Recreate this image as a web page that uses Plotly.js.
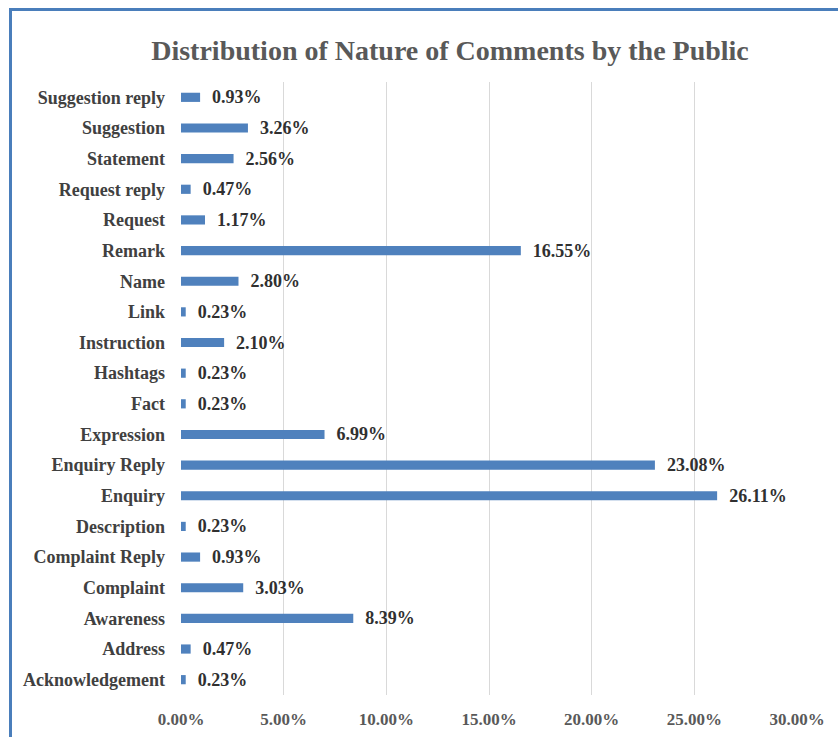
<!DOCTYPE html>
<html><head><meta charset="utf-8">
<script src="https://cdn.plot.ly/plotly-3.0.1.min.js"></script>
<style>
html,body{margin:0;padding:0;background:#fff;overflow:hidden;}
#chart{position:absolute;left:0;top:0;width:838px;height:737px;}
#frame{position:absolute;left:9px;top:8px;width:900px;height:800px;border-left:3px solid #4a7ebb;border-top:3px solid #4a7ebb;pointer-events:none;}
</style></head>
<body>
<div id="chart"></div>
<div id="frame"></div>
<script>
const categories = ["Acknowledgement","Address","Awareness","Complaint","Complaint Reply","Description","Enquiry","Enquiry Reply","Expression","Fact","Hashtags","Instruction","Link","Name","Remark","Request","Request reply","Statement","Suggestion","Suggestion reply"];
const values = [0.23,0.47,8.39,3.03,0.93,0.23,26.11,23.08,6.99,0.23,0.23,2.10,0.23,2.80,16.55,1.17,0.47,2.56,3.26,0.93];
const tickVals = [0,5,10,15,20,25,30];
const tickText = tickVals.map(v => v.toFixed(2) + "%");

const serif = "Liberation Serif";
Plotly.newPlot("chart", [{
  type: "bar",
  orientation: "h",
  y: categories,
  x: values,
  marker: {color: "#4f81bd"},
  text: values.map(v => v.toFixed(2) + "%"),
  texttemplate: "\u00a0\u00a0%{text}",
  textposition: "outside",
  constraintext: "none",
  cliponaxis: false,
  textfont: {family: serif, size: 18, color: "#303030", weight: "bold"},
  hoverinfo: "none"
}], {
  width: 838, height: 737,
  margin: {l: 181, r: 41, t: 82, b: 42},
  paper_bgcolor: "#fff", plot_bgcolor: "#fff",
  bargap: 0.7,
  showlegend: false,
  title: {text: "Distribution of Nature of Comments by the Public", x: 0.537, xanchor: "center", y: 0.932, yanchor: "middle",
          font: {family: serif, size: 28, color: "#595959", weight: "bold"}},
  xaxis: {range: [0, 30], tickvals: tickVals, ticktext: tickText, showgrid: true, gridcolor: "#d9d9d9", gridwidth: 1,
          zeroline: false, showline: false, ticks: "", ticklabelstandoff: 12,
          tickfont: {family: serif, size: 17, color: "#595959", weight: "bold"}},
  yaxis: {type: "category", categoryorder: "array", categoryarray: categories, showgrid: false, zeroline: false,
          showline: false, ticks: "", ticklabelstandoff: 15, automargin: false,
          tickfont: {family: serif, size: 18, color: "#404040", weight: "bold"}}
}, {staticPlot: true});
</script>
</body></html>
